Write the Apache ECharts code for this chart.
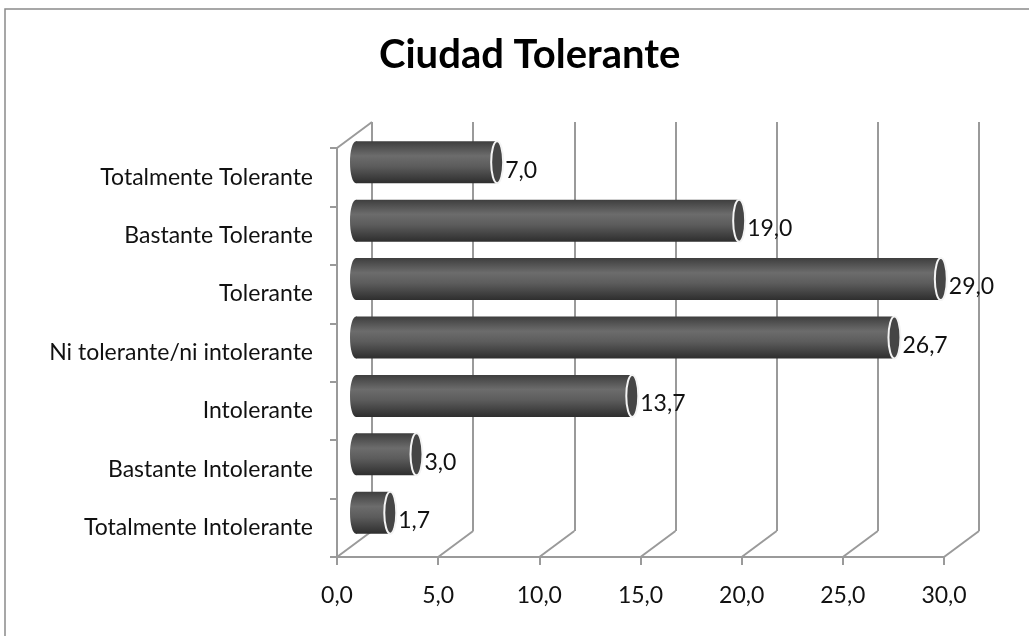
<!DOCTYPE html>
<html>
<head>
<meta charset="utf-8">
<script src="https://cdn.jsdelivr.net/npm/echarts@6/dist/echarts.min.js"></script>
<style>
  html, body { margin: 0; padding: 0; background: #fff; }
  #chart { width: 1029px; height: 636px; }
</style>
</head>
<body>
<div id="chart"></div>
<script>
// data, bottom category first (horizontal bar order)
const categories = [
  'Totalmente Intolerante',
  'Bastante Intolerante',
  'Intolerante',
  'Ni tolerante/ni intolerante',
  'Tolerante',
  'Bastante Tolerante',
  'Totalmente Tolerante'
];
const values = [1.7, 3.0, 13.7, 26.7, 29.0, 19.0, 7.0];
const xTicks = [0, 5, 10, 15, 20, 25, 30];

const W = 1029, H = 636;
// three depth planes of the fake 3d box
const front = { left: 337, right: W - 944, top: 148, bottom: H - 557 };
const mid = { left: 356, right: W - 961, top: 133, bottom: H - 542 };
const back = { left: 372, right: W - 979, top: 122, bottom: H - 531 };

const LINE = '#9a9a9a';
const FONT = 'Lato';
const fmt = v => v.toFixed(1).replace('.', ',');

const chart = echarts.init(document.getElementById('chart'));

const barGrad = new echarts.graphic.LinearGradient(0, 0, 0, 1, [
  { offset: 0, color: '#3e3e3e' },
  { offset: 0.35, color: '#6c6c6c' },
  { offset: 0.6, color: '#5c5c5c' },
  { offset: 1, color: '#2e2e2e' }
]);

const option = {
  animation: false,
  title: {
    text: 'Ciudad Tolerante',
    left: 374,
    top: 30,
    textStyle: { fontFamily: FONT, fontSize: 40, fontWeight: 'bold', color: '#000' }
  },
  grid: [
    { left: front.left, right: front.right, top: front.top, bottom: front.bottom },
    { left: back.left, right: back.right, top: back.top, bottom: back.bottom },
    { left: mid.left, right: mid.right, top: mid.top, bottom: mid.bottom }
  ],
  xAxis: [
    {
      gridIndex: 0, type: 'value', min: 0, max: 30, interval: 5,
      axisLine: { show: true, lineStyle: { color: LINE, width: 2 } },
      axisTick: { show: true, length: 8, lineStyle: { color: LINE, width: 2 } },
      splitLine: { show: false },
      axisLabel: { margin: 27, fontFamily: FONT, fontSize: 23, color: '#111', formatter: fmt }
    },
    {
      gridIndex: 1, type: 'value', min: 0, max: 30, interval: 5,
      axisLine: { show: false }, axisTick: { show: false }, axisLabel: { show: false },
      splitLine: { show: true, lineStyle: { color: LINE, width: 2 } }
    },
    {
      gridIndex: 2, type: 'value', min: 0, max: 30, interval: 5, show: false
    }
  ],
  yAxis: [
    {
      gridIndex: 0, type: 'category', data: categories,
      axisLine: { show: true, lineStyle: { color: LINE, width: 2 } },
      axisTick: { show: true, length: 7, lineStyle: { color: LINE, width: 2 } },
      axisLabel: { margin: 24, fontFamily: FONT, fontSize: 23, color: '#111' }
    },
    { gridIndex: 1, type: 'category', data: categories, show: false },
    { gridIndex: 2, type: 'category', data: categories, show: false }
  ],
  series: [
    {
      type: 'custom',
      xAxisIndex: 2,
      yAxisIndex: 2,
      data: values.map((v, i) => [v, i]),
      renderItem: (params, api) => {
        const v = api.value(0);
        const end = api.coord([v, api.value(1)]);
        const start = api.coord([0, api.value(1)]);
        const h = 42, rx = 6;
        const y0 = end[1] - h / 2;
        return {
          type: 'group',
          children: [
            {
              type: 'ellipse',
              shape: { cx: start[0], cy: end[1], rx: rx, ry: h / 2 },
              style: { fill: barGrad }
            },
            {
              type: 'rect',
              shape: { x: start[0], y: y0, width: end[0] - start[0], height: h },
              style: { fill: barGrad }
            },
            {
              type: 'ellipse',
              shape: { cx: end[0], cy: end[1], rx: rx, ry: h / 2 },
              style: { fill: '#454545', stroke: '#f4f4f4', lineWidth: 2 }
            },
            {
              type: 'text',
              x: end[0] + rx + 2,
              y: end[1] + 8,
              style: {
                text: fmt(v), fill: '#111', fontFamily: FONT, fontSize: 23,
                verticalAlign: 'middle', align: 'left'
              }
            }
          ]
        };
      }
    }
  ]
};

chart.setOption(option);

// floor and wall edges joining front and back planes
const lines = [];
const seg = (x1, y1, x2, y2) => lines.push({
  type: 'line', silent: true, z: 1,
  shape: { x1, y1, x2, y2 },
  style: { stroke: LINE, lineWidth: 2 }
});
const fBottom = H - front.bottom, bBottom = H - back.bottom;
xTicks.forEach(t => {
  const xf = chart.convertToPixel({ xAxisIndex: 0 }, t);
  const xb = chart.convertToPixel({ xAxisIndex: 1 }, t);
  seg(xf, fBottom, xb, bBottom);
});
seg(front.left, front.top, back.left, back.top);

chart.setOption({
  graphic: [
    {
      type: 'rect', silent: true, z: 0,
      shape: { x: 5, y: 9, width: 1200, height: 800 },
      style: { fill: 'none', stroke: '#8a8a8a', lineWidth: 1.5 }
    }
  ].concat(lines)
});
</script>
</body>
</html>
